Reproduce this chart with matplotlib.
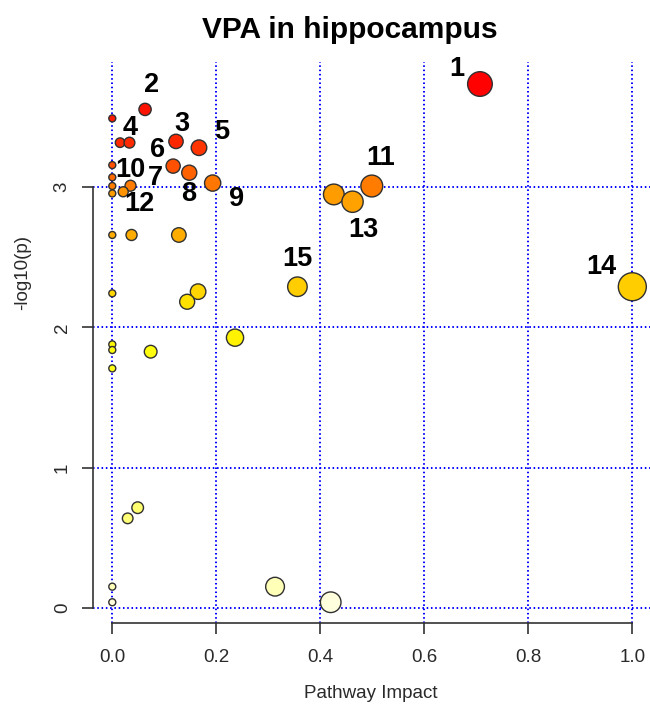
import numpy as np
import matplotlib.pyplot as plt
from matplotlib.colors import LinearSegmentedColormap, Normalize

plt.rcParams['font.family'] = ['Liberation Sans', 'DejaVu Sans']

# Pathway impact (x) and -log10(p) (y) for every pathway
impact = [0.707, 0.063, 0.0, 0.015, 0.033, 0.1225, 0.1667, 0.0, 0.117, 0.148,
          0.193, 0.0, 0.0, 0.0, 0.035, 0.021, 0.499, 0.426, 0.462, 0.0,
          0.037, 0.128, 0.356, 1.0, 0.0, 0.165, 0.144, 0.236, 0.0, 0.0,
          0.0738, 0.0, 0.0488, 0.0296, 0.0, 0.0, 0.313, 0.42]
logp = [3.735, 3.554, 3.49, 3.317, 3.317, 3.326, 3.281, 3.157, 3.15, 3.103,
        3.029, 3.07, 3.008, 2.955, 3.01, 2.967, 3.008, 2.948, 2.896, 2.659,
        2.659, 2.659, 2.29, 2.29, 2.243, 2.255, 2.183, 1.927, 1.879, 1.839,
        1.827, 1.708, 0.715, 0.639, 0.152, 0.041, 0.152, 0.041]

# numbered pathways: label text and the index of the point it names
label_text = ['1', '2', '3', '4', '5', '6', '7', '8', '9', '10', '11', '12', '13', '14', '15']
label_point = [0, 1, 5, 4, 6, 8, 9, 9, 10, 7, 16, 14, 18, 23, 22]
# label offsets from their point, in pixels (right, up)
label_off = [(-23, 15), (7, 24), (6, 17), (1, 15), (23, 16), (-16, 16), (-34, -5),
             (-1, -21), (24, -16), (18, -5), (9, 28), (9, -18), (11, -28),
             (-31, 20), (0, 28)]

impact = np.array(impact)
logp = np.array(logp)

# heat colours: pale yellow for low -log10(p), red for high
vmax = 3.75
nodes = [(0.0, '#FFFFE6'), (0.2, '#FFFFA8'), (0.7, '#FFFF70'), (1.8, '#FFFF10'),
         (1.95, '#FFF000'), (2.2, '#FFE000'), (2.3, '#FFCC00'), (2.66, '#FFAC00'),
         (2.95, '#FFA000'), (3.0, '#FF8000'), (3.15, '#FF5400'), (3.33, '#FF2800'),
         (3.75, '#FF0000')]
heat = LinearSegmentedColormap.from_list('heat', [(v / vmax, c) for v, c in nodes])

# circle radius in px grows with impact
radius = 3.5 + 10.5 * np.sqrt(impact)
sizes = (2 * radius * 0.72) ** 2

fig = plt.figure(figsize=(6.5, 7.08), dpi=100)
W, H = 650, 708
ax = fig.add_axes([93 / W, 1 - 622.7 / H, 1 - 93 / W, (622.7 - 62) / H])
ax.set_xlim(-0.0371, 1.034)
ax.set_ylim(-0.1048, 3.892)

grid_kw = dict(color='#0000FF', lw=1.4, dashes=(0.8, 1.4), zorder=1)
for gx in np.arange(0, 1.01, 0.2):
    ax.axvline(gx, **grid_kw)
for gy in range(4):
    ax.axhline(gy, **grid_kw)

ax.scatter(impact, logp, s=sizes, c=logp, cmap=heat, norm=Normalize(0, vmax),
           edgecolors='#303030', linewidths=1.0, zorder=3)

for t, i, (dx, dy) in zip(label_text, label_point, label_off):
    ax.annotate(t, (impact[i], logp[i]), xytext=(dx * 0.72, dy * 0.72),
                textcoords='offset points', ha='center', va='center',
                fontsize=19.5, fontweight='bold', color='black', zorder=4)

for side in ['top', 'right']:
    ax.spines[side].set_visible(False)
ax.spines['left'].set_bounds(0, 3)
ax.spines['bottom'].set_bounds(0, 1)
for side in ['left', 'bottom']:
    ax.spines[side].set_color('#333333')
    ax.spines[side].set_linewidth(1.2)

ax.set_xticks(np.arange(0, 1.01, 0.2))
ax.set_xticklabels(['0.0', '0.2', '0.4', '0.6', '0.8', '1.0'])
ax.set_yticks([0, 1, 2, 3])
ax.set_yticklabels(['0', '1', '2', '3'], rotation=90, va='center')
ax.tick_params(length=8, width=1.2, color='#333333', labelcolor='#2a2a2a',
               labelsize=13.5)
ax.tick_params(axis='x', pad=11)
ax.tick_params(axis='y', pad=8)

fig.text(350 / W, 1 - 30 / H, 'VPA in hippocampus', ha='center', va='center',
         fontsize=21.5, fontweight='bold')
fig.text(371 / W, 1 - 694 / H, 'Pathway Impact', ha='center', va='center',
         fontsize=13.5, color='#2a2a2a')
fig.text(23 / W, 1 - 272 / H, '-log10(p)', ha='center', va='center',
         rotation=90, fontsize=13.5, color='#2a2a2a')

fig.savefig('out.png', dpi=100)
